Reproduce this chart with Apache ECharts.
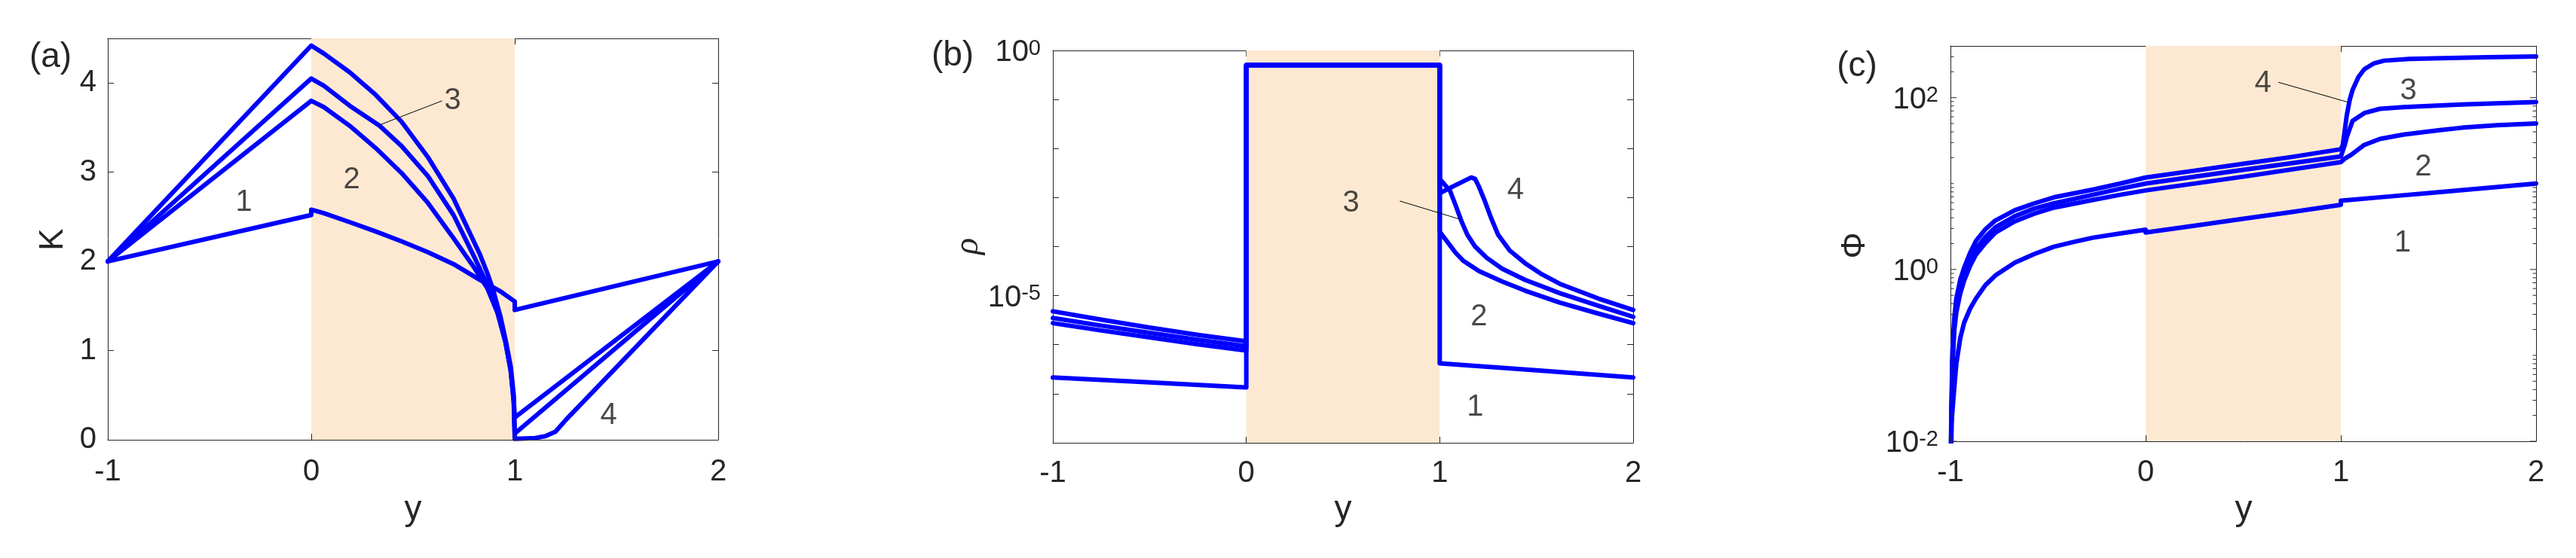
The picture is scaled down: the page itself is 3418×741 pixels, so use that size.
<!DOCTYPE html>
<html><head><meta charset="utf-8">
<script src="https://cdn.jsdelivr.net/npm/echarts@6.0.0/dist/echarts.min.js"></script>
<style>html,body{margin:0;padding:0;background:#fff}#c{width:3418px;height:741px}</style>
</head><body><div id="c"></div>
<script>
// ---------- tick labels ----------
const xTicks = [-1, 0, 1, 2];
const kTicks = [0, 1, 2, 3, 4];
const rhoLabelExps = [0, -5];
const phiLabelExps = [-2, 0, 2];
const phiMajorTicks = [0.01, 1, 100];
const phiMinorTicks = [0.02,0.03,0.04,0.05,0.06,0.07,0.08,0.09,0.1,0.2,0.3,0.4,0.5,0.6,0.7,0.8,0.9,2,3,4,5,6,7,8,9,10,20,30,40,50,60,70,80,90,200,300];
const shadedRange = [0, 1];

// ---------- panel (a): K ----------
const K1 = [[-1,2],[0,2.52],[0,2.58],[0.062,2.54],[0.189,2.44],[0.317,2.335],[0.444,2.225],[0.572,2.105],[0.699,1.97],[0.827,1.795],[0.929,1.665],[1,1.55],[1,1.455],[2,2]];
const K2 = [[-1,2],[0,3.80],[0.062,3.73],[0.189,3.52],[0.317,3.27],[0.444,2.99],[0.572,2.66],[0.699,2.26],[0.801,1.93],[0.865,1.70],[0.916,1.42],[0.954,1.10],[0.98,0.78],[0.995,0.45],[1,0.25],[2,2]];
const K3 = [[-1,2],[0,4.05],[0.062,3.97],[0.189,3.745],[0.336,3.52],[0.444,3.293],[0.572,2.96],[0.699,2.52],[0.801,2.05],[0.865,1.74],[0.916,1.42],[0.954,1.10],[0.98,0.78],[0.995,0.42],[1,0.07],[2,2]];
const K4 = [[-1,2],[0,4.42],[0.062,4.33],[0.189,4.12],[0.317,3.866],[0.444,3.565],[0.572,3.173],[0.699,2.706],[0.827,2.088],[0.865,1.87],[0.891,1.70],[0.93,1.38],[0.954,1.13],[0.98,0.823],[0.995,0.5],[1,0.01],[1.1,0.02],[1.15,0.04],[1.2,0.09],[1.25,0.22],[2,2]];
const labelsA = [[-0.331,2.66,'1'],[0.199,2.91,'2'],[0.695,3.80,'3'],[1.462,0.27,'4']];
const leaderA = [[0.643,3.80],[0.336,3.53]];

// ---------- panel (b): rho ----------
const rho1 = [[-1,2.14e-7],[-0.5,1.7e-7],[0,1.35e-7],[0,0.5],[1,0.5],[1,4.17e-7],[1.5,3.0e-7],[2,2.14e-7]];
const rho2 = [[-1,2.75e-6],[-0.75,1.95e-6],[-0.5,1.41e-6],[-0.25,1.02e-6],[0,7.6e-7],[0,0.5],[1,0.5],[1,2.0e-4],[1.043,1.2e-4],[1.083,7.4e-5],[1.123,5.1e-5],[1.203,3.16e-5],[1.322,1.95e-5],[1.442,1.26e-5],[1.621,7.2e-6],[1.821,4.3e-6],[2,2.75e-6]];
const rho3 = [[-1,3.5e-6],[-0.75,2.45e-6],[-0.5,1.74e-6],[-0.25,1.26e-6],[0,9.3e-7],[0,0.5],[1,0.5],[1,2.4e-3],[1.053,1.38e-3],[1.083,6.8e-4],[1.113,3.24e-4],[1.143,1.74e-4],[1.183,1.0e-4],[1.243,5.9e-5],[1.322,3.55e-5],[1.442,2.09e-5],[1.621,1.12e-5],[1.821,6.2e-6],[2,3.7e-6]];
const rho4 = [[-1,4.8e-6],[-0.75,3.24e-6],[-0.5,2.24e-6],[-0.25,1.58e-6],[0,1.17e-6],[0,0.5],[1,0.5],[1,1.23e-3],[1.08,1.78e-3],[1.163,2.57e-3],[1.183,2.4e-3],[1.203,1.66e-3],[1.233,8.5e-4],[1.263,4.07e-4],[1.302,1.74e-4],[1.362,8.3e-5],[1.442,4.57e-5],[1.522,2.82e-5],[1.621,1.74e-5],[1.821,8.7e-6],[2,5.1e-6]];
const labelsB = [[1.183,5.2e-8,'1'],[1.203,3.7e-6,'2'],[0.541,7.6e-4,'3'],[1.392,1.38e-3,'4']];
const leaderB = [[0.794,8.5e-4],[1.103,3.63e-4]];

// ---------- panel (c): Phi ----------
const phi1 = [[-1,1e-4],[-0.995,0.0158],[-0.985,0.0316],[-0.97,0.0794],[-0.95,0.158],[-0.93,0.24],[-0.9,0.347],[-0.87,0.457],[-0.82,0.661],[-0.77,0.851],[-0.67,1.202],[-0.57,1.514],[-0.47,1.841],[-0.37,2.089],[-0.27,2.344],[-0.13,2.63],[0,2.904],[0,2.69],[0.25,3.236],[0.5,3.89],[0.75,4.677],[1,5.649],[1,6.31],[1.25,7.079],[1.5,7.943],[1.75,8.913],[2,10]];
const phi2 = [[-1,1e-4],[-0.999,3.16e-3],[-0.995,0.0158],[-0.99,0.0759],[-0.98,0.2],[-0.97,0.316],[-0.95,0.525],[-0.93,0.741],[-0.9,1.096],[-0.87,1.479],[-0.82,2.042],[-0.77,2.69],[-0.67,3.631],[-0.57,4.467],[-0.47,5.248],[-0.27,6.457],[-0.13,7.413],[0,8.318],[0.5,12.02],[1,17.78],[1.02,19.5],[1.05,21.38],[1.12,28.18],[1.2,33.11],[1.32,37.15],[1.5,41.69],[1.62,44.67],[1.8,47.86],[2,50.12]];
const phi3 = [[-1,1e-4],[-0.999,3.98e-3],[-0.995,0.02],[-0.99,0.0891],[-0.98,0.24],[-0.97,0.38],[-0.95,0.631],[-0.93,0.871],[-0.9,1.288],[-0.87,1.738],[-0.82,2.399],[-0.77,3.09],[-0.67,4.169],[-0.57,5.129],[-0.47,5.888],[-0.27,7.413],[-0.13,8.71],[0,10],[0.5,14.45],[1,20.65],[1.02,28.18],[1.03,34.67],[1.06,53.7],[1.12,66.07],[1.2,74.13],[1.32,77.62],[1.62,83.18],[2,89.13]];
const phi4 = [[-1,1e-4],[-0.999,5.0e-3],[-0.995,0.0251],[-0.99,0.112],[-0.98,0.282],[-0.97,0.457],[-0.95,0.759],[-0.93,1.047],[-0.9,1.549],[-0.87,2.138],[-0.82,2.951],[-0.77,3.715],[-0.67,4.898],[-0.57,5.888],[-0.47,6.918],[-0.27,8.511],[-0.13,10],[0,11.75],[0.25,14.13],[0.5,16.98],[0.75,20.42],[1,25.12],[1.01,28.18],[1.02,41.69],[1.03,61.66],[1.045,93.3],[1.06,123],[1.09,173.8],[1.12,213.8],[1.17,251.2],[1.22,269.2],[1.35,281.8],[1.52,288.4],[1.75,295.1],[2,302]];
const labelsC = [[1.316,2.04,'1'],[1.422,15.5,'2'],[1.346,119,'3'],[0.601,147,'4']];
const leaderC = [[0.68,151],[1.033,89]];

// ---------- styling ----------
const FONT = "'Liberation Sans', Arial, sans-serif";
const AX = '#262626';
const BLUE = '#0000FF';
const SHADE = '#FDE9D2';
const TICK_FS = 40;
const LW = 6;

function xAxes(g, margin) {
  const common = {
    gridIndex: g, type: 'value', min: -1, max: 2, interval: 1,
    axisLine: { show: true, onZero: false, lineStyle: { color: AX, width: 1 } },
    axisTick: { show: true, inside: true, length: 8, lineStyle: { color: AX, width: 1 } },
    splitLine: { show: false }
  };
  return [
    Object.assign({}, common, { position: 'bottom', z: 3,
      axisLabel: { show: true, margin: margin, fontSize: TICK_FS, fontFamily: FONT, color: AX,
        formatter: v => xTicks.indexOf(v) >= 0 ? String(v) : '' } }),
    Object.assign({}, common, { position: 'top', axisLabel: { show: false } })
  ];
}
function logFmt(exps) {
  return function (v) {
    const e = Math.log10(v); const r = Math.round(e);
    if (Math.abs(e - r) > 1e-6 || exps.indexOf(r) < 0) return '';
    return '{b|10}{s|' + r + '}';
  };
}
const richSup = {
  b: { fontSize: TICK_FS, fontFamily: FONT, color: AX, lineHeight: 40, verticalAlign: 'bottom' },
  s: { fontSize: 29, fontFamily: FONT, color: AX, lineHeight: 29, verticalAlign: 'top', padding: [0, 0, 23, 0] }
};
function yAxes(g, cfg) {
  const common = Object.assign({
    gridIndex: g,
    axisLine: { show: true, onZero: false, lineStyle: { color: AX, width: 1 } },
    axisTick: { show: cfg.ticks !== false, inside: true, length: 8, lineStyle: { color: AX, width: 1 } },
    splitLine: { show: false }
  }, cfg.scale);
  return [
    Object.assign({}, common, { position: 'left', axisLabel: cfg.label }),
    Object.assign({}, common, { position: 'right', axisLabel: { show: false } })
  ];
}
function lineSeries(data, xi, extra) {
  return Object.assign({
    type: 'line', xAxisIndex: xi, yAxisIndex: xi, data: data, showSymbol: false, symbol: 'none',
    lineStyle: { color: BLUE, width: LW, join: 'round', cap: 'round' }, itemStyle: { color: BLUE }, clip: true, silent: true, z: 2
  }, extra || {});
}
function shadeArea() {
  return { silent: true, itemStyle: { color: SHADE }, data: [[{ xAxis: shadedRange[0] }, { xAxis: shadedRange[1] }]] };
}
function leader(data, xi) {
  return { type: 'line', xAxisIndex: xi, yAxisIndex: xi, data: data, showSymbol: false, symbol: 'none',
    lineStyle: { color: '#000', width: 1 }, silent: true, z: 3 };
}
function labels(data, xi) {
  return { type: 'scatter', xAxisIndex: xi, yAxisIndex: xi, symbolSize: 1,
    itemStyle: { color: 'rgba(0,0,0,0)' }, silent: true, z: 4,
    data: data.map(d => ({ value: [d[0], d[1]], name: d[2] })),
    label: { show: true, position: 'inside', formatter: '{b}', fontSize: TICK_FS, fontFamily: FONT, color: '#1a1a1a' } };
}
const tickData = phiMajorTicks.map(v => [-1, v, 8]).concat(phiMinorTicks.map(v => [-1, v, 4.5]));
const phiTicks = {
  type: 'custom', xAxisIndex: 4, yAxisIndex: 4, silent: true, z: 5, clip: false,
  data: tickData,
  renderItem: function (params, api) {
    const v = api.value(1), len = api.value(2);
    const pL = api.coord([-1, v]), pR = api.coord([2, v]);
    return { type: 'group', children: [
      { type: 'line', shape: { x1: pL[0], y1: pL[1], x2: pL[0] + len, y2: pL[1] }, style: { stroke: AX, lineWidth: 1 } },
      { type: 'line', shape: { x1: pR[0], y1: pR[1], x2: pR[0] - len, y2: pR[1] }, style: { stroke: AX, lineWidth: 1 } }
    ] };
  }
};

const option = {
  animation: false,
  backgroundColor: '#fff',
  grid: [
    { left: 143, top: 51, width: 810, height: 533, outerBoundsMode: 'none', containLabel: false },
    { left: 1397, top: 67, width: 770, height: 521, outerBoundsMode: 'none', containLabel: false },
    { left: 2588, top: 61, width: 777, height: 525, outerBoundsMode: 'none', containLabel: false }
  ],
  xAxis: [].concat(xAxes(0, 23), xAxes(1, 21), xAxes(2, 22)),
  yAxis: [].concat(
    yAxes(0, { scale: { type: 'value', min: 0, max: 4.5, interval: 1 },
      label: { show: true, margin: 15, fontSize: TICK_FS, fontFamily: FONT, color: AX, padding: [4, 0, 0, 0],
        formatter: v => kTicks.indexOf(v) >= 0 ? String(v) : '' } }),
    yAxes(1, { scale: { type: 'log', logBase: 10, min: 1e-8, max: 1 },
      label: { show: true, margin: 16, padding: [6, 0, 0, 0], formatter: logFmt(rhoLabelExps), rich: richSup } }),
    yAxes(2, { ticks: false, scale: { type: 'log', logBase: 10, min: 0.01, max: 400 },
      label: { show: true, margin: 16, padding: [6, 0, 0, 0], formatter: logFmt(phiLabelExps), rich: richSup } })
  ),
  graphic: [
    { type: 'text', x: 67, y: 76, style: { text: '(a)', fontSize: 46, fontFamily: FONT, fill: AX, align: 'center', verticalAlign: 'middle' } },
    { type: 'text', x: 1264, y: 74, style: { text: '(b)', fontSize: 46, fontFamily: FONT, fill: AX, align: 'center', verticalAlign: 'middle' } },
    { type: 'text', x: 2464, y: 88, style: { text: '(c)', fontSize: 46, fontFamily: FONT, fill: AX, align: 'center', verticalAlign: 'middle' } },
    { type: 'text', x: 71, y: 318, rotation: Math.PI / 2, style: { text: 'K', fontSize: 44, fontFamily: FONT, fill: AX, align: 'center', verticalAlign: 'middle' } },
    { type: 'text', x: 1285, y: 327, rotation: Math.PI / 2, style: { text: 'ρ', fontSize: 46, fontStyle: 'italic', fontFamily: "'Liberation Serif', serif", fill: AX, align: 'center', verticalAlign: 'middle' } },
    { type: 'text', x: 2462, y: 326, rotation: Math.PI / 2, style: { text: 'Φ', fontSize: 44, fontFamily: FONT, fill: AX, align: 'center', verticalAlign: 'middle' } },
    { type: 'text', x: 548, y: 677, style: { text: 'y', fontSize: 46, fontFamily: FONT, fill: AX, align: 'center', verticalAlign: 'middle' } },
    { type: 'text', x: 1782, y: 677, style: { text: 'y', fontSize: 46, fontFamily: FONT, fill: AX, align: 'center', verticalAlign: 'middle' } },
    { type: 'text', x: 2977, y: 677, style: { text: 'y', fontSize: 46, fontFamily: FONT, fill: AX, align: 'center', verticalAlign: 'middle' } }
  ],
  series: [
    lineSeries(K1, 0, { markArea: shadeArea() }), lineSeries(K2, 0), lineSeries(K3, 0), lineSeries(K4, 0),
    leader(leaderA, 0), labels(labelsA, 0),
    lineSeries(rho1, 2, { markArea: shadeArea() }), lineSeries(rho2, 2), lineSeries(rho3, 2), lineSeries(rho4, 2),
    leader(leaderB, 2), labels(labelsB, 2),
    lineSeries(phi1, 4, { markArea: shadeArea() }), lineSeries(phi2, 4), lineSeries(phi3, 4), lineSeries(phi4, 4),
    leader(leaderC, 4), labels(labelsC, 4), phiTicks
  ]
};
const chart = echarts.init(document.getElementById('c'), null, { renderer: 'canvas' });
chart.setOption(option);
</script></body></html>
